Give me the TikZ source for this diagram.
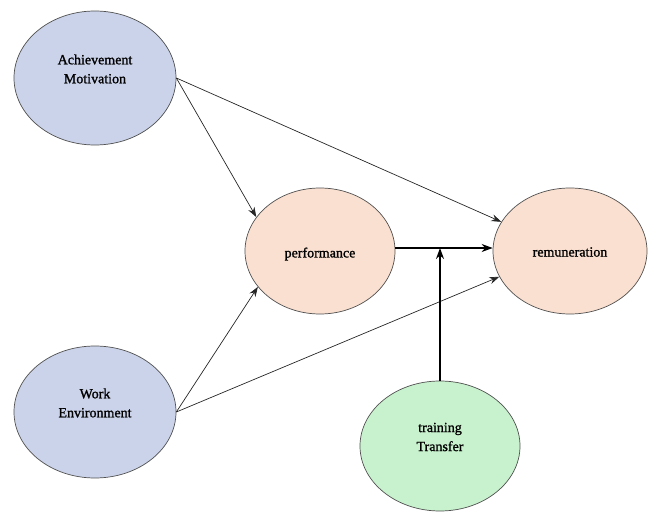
\documentclass[tikz,border=0pt]{standalone}
\usepackage{fontspec}
\setmainfont{Liberation Serif}
\newfontfamily\labfont[FakeBold=1.2]{Liberation Serif}
\usetikzlibrary{shapes.geometric,arrows.meta}
\definecolor{blueF}{HTML}{CBD3EA}
\definecolor{peachF}{HTML}{FAE0D0}
\definecolor{greenF}{HTML}{C8F2CD}
\definecolor{edgeC}{HTML}{505050}
\begin{document}
\begin{tikzpicture}[x=1pt,y=1pt,
  bubble/.style={ellipse,draw=edgeC,line width=0.7pt,inner sep=0pt},
  lab/.style={align=center,font=\labfont\fontsize{14}{19}\selectfont,text=black},
  thinarrow/.style={-{Stealth[length=10pt,width=7pt]},line width=0.7pt,draw=black!85},
  thickarrow/.style={-{Stealth[length=11pt,width=8pt]},line width=1.6pt,draw=black}]
\useasboundingbox (0,0) rectangle (648,512);
\node[bubble,fill=blueF,minimum width=162pt,minimum height=134pt] (am) at (95,434) {};
\node[bubble,fill=blueF,minimum width=162pt,minimum height=132pt] (we) at (95,100) {};
\node[bubble,fill=peachF,minimum width=150pt,minimum height=126pt] (perf) at (320,261) {};
\node[bubble,fill=peachF,minimum width=154pt,minimum height=126pt] (rem) at (570,261) {};
\node[bubble,fill=greenF,minimum width=160pt,minimum height=130pt] (tt) at (440,66) {};
\node[lab] (amt) at ([yshift=9pt]am.center) {Achievement\\Motivation};
\node[lab] (wet) at ([yshift=9pt]we.center) {Work\\Environment};
\node[lab] (perft) at ([yshift=-3pt]perf.center) {performance};
\node[lab] (remt) at ([yshift=-1pt]rem.center) {remuneration};
\node[lab] (ttt) at ([yshift=9pt]tt.center) {training\\Transfer};
\draw[thinarrow] (am.east) -- (rem.157);
\draw[thinarrow] (am.east) -- (perf.152);
\draw[thinarrow] (we.east) -- (perf.210);
\draw[thinarrow] (we.east) -- (rem.200);
\coordinate (pout) at ([yshift=3pt]perf.east);
\coordinate (rin) at ([yshift=3pt]rem.west);
\draw[thickarrow] (pout) -- (rin);
\coordinate (junc) at (tt.north |- pout);
\draw[thickarrow] (tt.north) -- (junc);
\end{tikzpicture}
\end{document}
